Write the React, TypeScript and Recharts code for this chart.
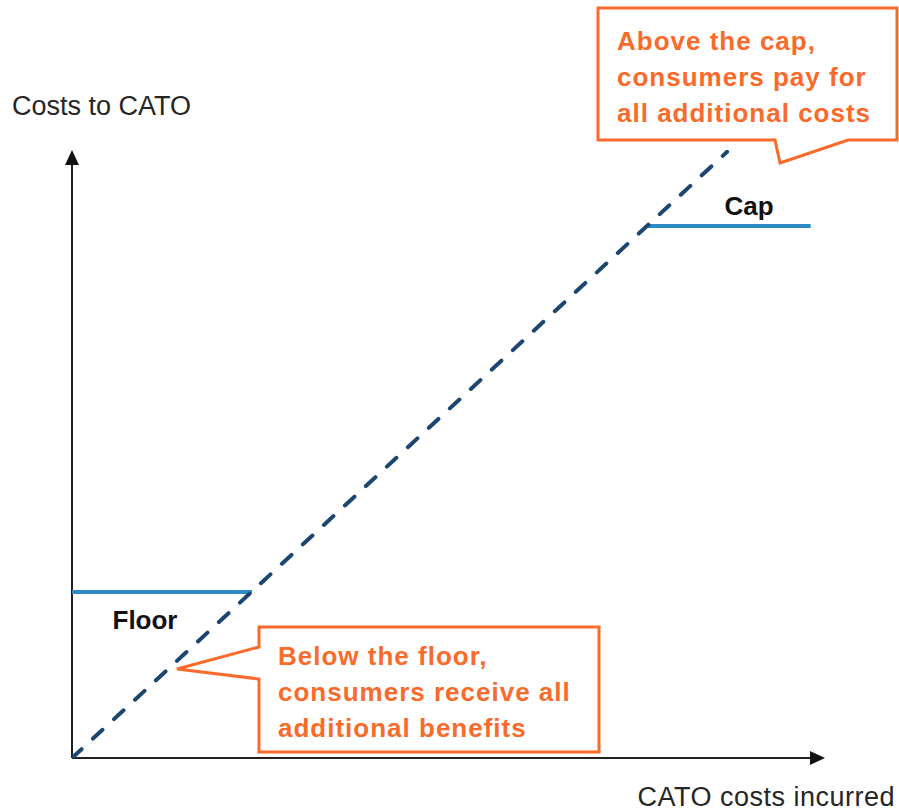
import { LineChart, Line, XAxis, YAxis, ReferenceLine } from "recharts";

// costs-to-CATO line (costs incurred vs costs borne), in chart units 0-100
const diagonalX = [0, 87];
const diagonalY = [0, 99.7];

// floor and cap bands
const floorLevel = 27.3;
const floorX = [0, 23.9];
const capLevel = 87.5;
const capX = [76.4, 98.1];

const axisTop = 100;
const axisRight = 100;

const diagonalData = diagonalX.map((x, i) => ({ x, y: diagonalY[i] }));
const floorData = floorX.map((x) => ({ x, y: floorLevel }));
const capData = capX.map((x) => ({ x, y: capLevel }));

const ORANGE = "#FA6A2A";
const FONT = "'Liberation Sans', Arial, sans-serif";

function ArrowAxis(props: any) {
  const { x1, y1, x2, y2 } = props;
  const dx = x2 - x1;
  const dy = y2 - y1;
  const len = Math.sqrt(dx * dx + dy * dy) || 1;
  const ux = dx / len;
  const uy = dy / len;
  const head = 15;
  const half = 7;
  const bx = x2 - ux * head;
  const by = y2 - uy * head;
  const pts = [
    `${x2},${y2}`,
    `${bx - uy * half},${by + ux * half}`,
    `${bx + uy * half},${by - ux * half}`,
  ].join(" ");
  return (
    <g>
      <line x1={x1} y1={y1} x2={bx} y2={by} stroke="#222" strokeWidth={2} />
      <polygon points={pts} fill="#111" />
    </g>
  );
}

function Callouts() {
  return (
    <svg
      width={899}
      height={812}
      style={{ position: "absolute", left: 0, top: 0, pointerEvents: "none" }}
      fontFamily={FONT}
    >
      <text x={12} y={115} fontSize={27} fill="#262626">
        Costs to CATO
      </text>
      <text x={895} y={806} fontSize={27} fill="#262626" textAnchor="end" letterSpacing={0.5}>
        CATO costs incurred
      </text>
      <text x={749} y={215} fontSize={26} fontWeight="bold" fill="#111" textAnchor="middle">
        Cap
      </text>
      <text x={145} y={629} fontSize={26} fontWeight="bold" fill="#111" textAnchor="middle">
        Floor
      </text>

      <path
        d="M598,8 H897 V140 H848 L780,163 L775,140 H598 Z"
        fill="#fff"
        stroke={ORANGE}
        strokeWidth={3}
        strokeLinejoin="miter"
      />
      <g fontSize={26} fontWeight="bold" fill={ORANGE} letterSpacing={1}>
        <text x={617} y={50}>Above the cap,</text>
        <text x={617} y={86}>consumers pay for</text>
        <text x={617} y={122}>all additional costs</text>
      </g>

      <path
        d="M259,627 H599 V752 H259 V679 L177,669 L259,647 Z"
        fill="#fff"
        stroke={ORANGE}
        strokeWidth={3}
        strokeLinejoin="miter"
      />
      <g fontSize={26} fontWeight="bold" fill={ORANGE} letterSpacing={1}>
        <text x={278} y={665}>Below the floor,</text>
        <text x={278} y={701}>consumers receive all</text>
        <text x={278} y={737}>additional benefits</text>
      </g>
    </svg>
  );
}

export default function App() {
  return (
    <div style={{ position: "absolute", left: 0, top: 0, width: 899, height: 812, background: "#fff" }}>
      <LineChart width={899} height={812} margin={{ top: 150, right: 74, bottom: 54, left: 72 }}>
        <XAxis type="number" dataKey="x" domain={[0, axisRight]} hide allowDataOverflow />
        <YAxis type="number" dataKey="y" domain={[0, axisTop]} hide allowDataOverflow />
        <ReferenceLine
          segment={[{ x: 0, y: 0 }, { x: 0, y: axisTop }]}
          shape={ArrowAxis}
          ifOverflow="visible"
        />
        <ReferenceLine
          segment={[{ x: 0, y: 0 }, { x: axisRight, y: 0 }]}
          shape={ArrowAxis}
          ifOverflow="visible"
        />
        <Line
          data={floorData}
          dataKey="y"
          stroke="#2E8BC6"
          strokeWidth={4}
          dot={false}
          isAnimationActive={false}
        />
        <Line
          data={capData}
          dataKey="y"
          stroke="#2E8BC6"
          strokeWidth={4}
          dot={false}
          isAnimationActive={false}
        />
        <Line
          data={diagonalData}
          dataKey="y"
          stroke="#1C4670"
          strokeWidth={4}
          strokeDasharray="13 15.6"
          strokeLinecap="round"
          dot={false}
          isAnimationActive={false}
        />
      </LineChart>
      <Callouts />
    </div>
  );
}
